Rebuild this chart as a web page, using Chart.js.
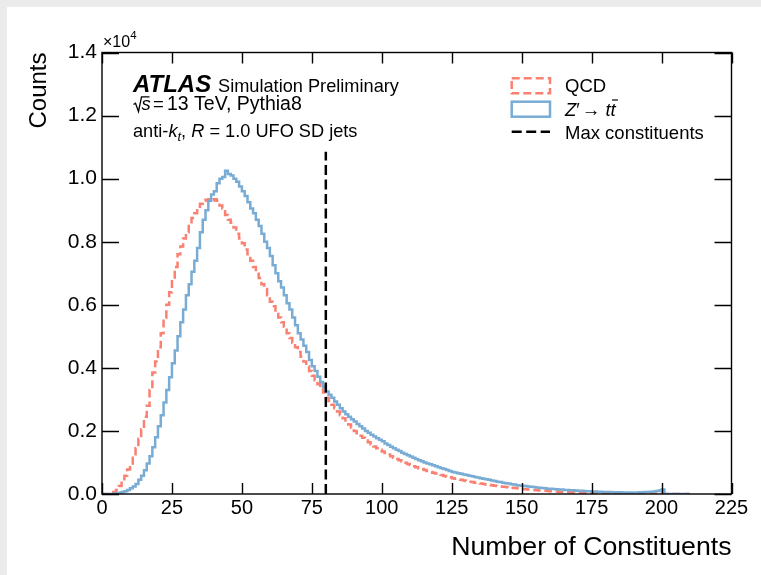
<!DOCTYPE html>
<html><head><meta charset="utf-8">
<script src="https://cdn.jsdelivr.net/npm/chart.js@4.4.1/dist/chart.umd.min.js"></script>
<style>
html,body{margin:0;padding:0;background:#ebebeb;overflow:hidden;}
#card{position:absolute;left:7px;top:7px;width:754px;height:568px;background:#fff;}
#c{position:absolute;left:0;top:0;}
</style></head><body>
<div id="card"></div>
<canvas id="c" width="761" height="575"></canvas>
<script>
// ---------------- data ----------------
const binStart = 0;
const binWidth = 1;
const xTicks = [0, 25, 50, 75, 100, 125, 150, 175, 200, 225];
const yTicks = [0, 2000, 4000, 6000, 8000, 10000, 12000, 14000];
const seriesLabels = ['QCD', 'Z′ → tt̄', 'Max constituents'];
const maxConstituents = 80;
const cutLineTop = 10850;

// QCD counts per bin (bins 0..209)
const qcdCounts = [
  0,0,0,20,60,130,250,400,580,780,
  920,1150,1450,1750,2050,2450,2800,3300,3850,4200,
  4650,5100,5600,6000,6400,6800,7200,7600,7850,8100,
  8300,8550,8750,8900,9050,9200,9300,9330,9350,9300,
  9350,9300,9150,9050,8850,8700,8600,8450,8250,8100,
  7950,7750,7600,7400,7200,7050,6850,6650,6500,6300,
  6100,5950,5750,5600,5450,5300,5100,4950,4800,4650,
  4500,4350,4200,4050,3900,3750,3600,3480,3350,3220,
  3050,2950,2830,2720,2620,2500,2400,2290,2200,2100,
  2000,1930,1850,1780,1700,1640,1570,1510,1450,1400,
  1350,1300,1250,1200,1150,1110,1070,1030,990,950,
  920,880,850,820,790,760,730,700,670,650,
  620,600,570,550,530,500,480,460,450,430,
  410,390,380,360,350,330,320,300,290,280,
  260,250,240,230,220,210,200,190,180,170,
  160,150,140,140,130,120,110,110,100,95,
  90,85,80,75,70,65,60,58,55,50,
  47,44,41,38,35,33,30,28,26,24,
  22,20,19,17,16,15,14,13,12,11,
  10,9,9,8,8,7,7,6,6,6,
  15,0,0,0,0,0,0,0,0,0
];

// Z' -> ttbar counts per bin (bins 0..209)
const zprimeCounts = [
  0,0,0,0,10,20,40,60,90,130,
  180,240,320,450,580,750,970,1200,1480,1800,
  2150,2500,2900,3300,3700,4150,4550,5000,5450,5850,
  6300,6650,7050,7400,7800,8300,8700,9000,9300,9500,
  9600,9850,10000,10050,10250,10150,10100,10000,9900,9750,
  9600,9450,9250,9050,8900,8700,8500,8250,8000,7800,
  7550,7250,7000,6750,6550,6300,6050,5850,5600,5350,
  5100,4900,4700,4500,4250,4050,3900,3720,3550,3400,
  3250,3150,3050,2930,2830,2720,2620,2530,2450,2370,
  2300,2220,2150,2080,2000,1940,1880,1820,1770,1720,
  1670,1600,1550,1500,1450,1400,1360,1310,1270,1230,
  1190,1150,1110,1070,1040,1000,970,940,910,880,
  850,820,790,760,730,700,680,660,640,620,
  600,580,560,540,520,500,480,470,450,430,
  410,390,380,360,340,330,310,300,280,270,
  260,250,240,230,220,210,200,190,180,170,
  165,160,150,145,140,130,125,120,115,110,
  105,100,95,90,85,80,77,73,70,67,
  64,60,58,56,54,52,50,49,48,48,
  48,50,52,55,60,65,72,80,95,110,
  140,0,0,0,0,0,0,0,0,0
];

// ---------------- styling ----------------
const FONT = '"Liberation Sans", Arial, Helvetica, sans-serif';
const qcdColor = '#fa8072';
const zpColor = '#78acd4';

function histPoints(counts) {
  const pts = counts.map((c, i) => ({x: binStart + i * binWidth, y: c}));
  pts.push({x: binStart + counts.length * binWidth, y: 0});
  return pts;
}

function drawRuns(ctx, x, y, runs) {
  for (const r of runs) {
    ctx.font = r.font;
    if (r.at !== undefined) x = r.at;
    const w = ctx.measureText(r.text).width;
    ctx.fillText(r.text, x, y + (r.dy || 0));
    if (r.bar) {
      ctx.save();
      ctx.lineWidth = 1.2;
      ctx.beginPath();
      ctx.moveTo(x + r.bar[0], y + r.bar[2]);
      ctx.lineTo(x + r.bar[1], y + r.bar[2]);
      ctx.stroke();
      ctx.restore();
    }
    x += w + (r.gap || 0);
  }
  return x;
}

const framePlugin = {
  id: 'frame',
  afterDraw(chart) {
    const {ctx, chartArea: a, scales: {x, y}} = chart;
    ctx.save();
    ctx.strokeStyle = '#000';
    ctx.lineWidth = 1.4;
    ctx.setLineDash([]);
    ctx.strokeRect(a.left, a.top, a.right - a.left, a.bottom - a.top);
    ctx.beginPath();
    x.ticks.forEach(t => {
      const px = Math.round(x.getPixelForValue(t.value)) + 0.5;
      ctx.moveTo(px, a.bottom); ctx.lineTo(px, a.bottom - 11);
      ctx.moveTo(px, a.top); ctx.lineTo(px, a.top + 11);
    });
    y.ticks.forEach(t => {
      const py = Math.round(y.getPixelForValue(t.value)) + 0.5;
      ctx.moveTo(a.left, py); ctx.lineTo(a.left + 17, py);
      ctx.moveTo(a.right, py); ctx.lineTo(a.right - 17, py);
    });
    ctx.stroke();

    // offset text x10^4
    ctx.fillStyle = '#000';
    ctx.textBaseline = 'alphabetic';
    ctx.textAlign = 'left';
    drawRuns(ctx, a.left + 1, 47, [
      {text: '×10', font: `16px ${FONT}`},
      {text: '4', font: `11.5px ${FONT}`, dy: -8.5}
    ]);

    // ATLAS label
    const x0 = 133;
    drawRuns(ctx, x0, 91.5, [
      {text: 'ATLAS', font: `italic bold 24px ${FONT}`},
      {text: 'Simulation Preliminary', font: `18.2px ${FONT}`, at: 218}
    ]);
    // sqrt(s) line
    ctx.lineWidth = 1.3;
    ctx.beginPath();
    ctx.moveTo(133.5, 104.5); ctx.lineTo(135.5, 103.2);
    ctx.lineTo(138.5, 111.5); ctx.lineTo(141.5, 96.8); ctx.lineTo(149.5, 96.8);
    ctx.stroke();
    drawRuns(ctx, 141.5, 110, [
      {text: 's', font: `italic 18.5px ${FONT}`},
      {text: '=', font: `18.5px ${FONT}`, at: 153},
      {text: '13 TeV, Pythia8', font: `19.5px ${FONT}`, at: 167}
    ]);
    drawRuns(ctx, x0, 136.5, [
      {text: 'anti-', font: `18.2px ${FONT}`},
      {text: 'k', font: `italic 18.2px ${FONT}`},
      {text: 't', font: `italic 13px ${FONT}`, dy: 4},
      {text: ', ', font: `18.2px ${FONT}`},
      {text: 'R', font: `italic 18.2px ${FONT}`},
      {text: ' = 1.0 UFO SD jets', font: `18.2px ${FONT}`}
    ]);

    // legend
    const ds = chart.data.datasets;
    const lx = 511.7, lw = 38.3, tx = 565;
    ctx.lineWidth = 2.5;
    ctx.strokeStyle = ds[0].borderColor;
    ctx.setLineDash([8, 4]);
    ctx.strokeRect(lx, 78.3, lw, 15);
    ctx.setLineDash([]);
    ctx.strokeStyle = ds[1].borderColor;
    ctx.strokeRect(lx, 101.7, lw, 15);
    ctx.strokeStyle = ds[2].borderColor;
    ctx.setLineDash([10, 4.5]);
    ctx.beginPath(); ctx.moveTo(lx, 131.7); ctx.lineTo(lx + lw, 131.7); ctx.stroke();
    ctx.setLineDash([]);
    ctx.fillStyle = '#000';
    drawRuns(ctx, tx, 92.3, [{text: ds[0].label, font: `18.5px ${FONT}`}]);
    drawRuns(ctx, tx, 115.5, [
      {text: 'Z', font: `italic 18.5px ${FONT}`},
      {text: '′', font: `18.5px ${FONT}`, gap: 2},
      {text: '→ ', font: `18.5px ${FONT}`},
      {text: 't', font: `italic 18.5px ${FONT}`},
      {text: 't', font: `italic 18.5px ${FONT}`, bar: [1.5, 7.5, -15.5]}
    ]);
    drawRuns(ctx, tx, 139, [{text: ds[2].label, font: `18.5px ${FONT}`}]);
    ctx.restore();
  }
};

new Chart(document.getElementById('c'), {
  type: 'line',
  data: {
    datasets: [
      {label: seriesLabels[0], data: histPoints(qcdCounts), borderColor: qcdColor, borderWidth: 2.5,
       borderDash: [8, 4], stepped: 'before', pointRadius: 0, fill: false, order: 2, borderCapStyle: 'butt'},
      {label: seriesLabels[1], data: histPoints(zprimeCounts), borderColor: zpColor, borderWidth: 2.5,
       stepped: 'before', pointRadius: 0, fill: false, order: 1},
      {label: seriesLabels[2], data: [{x: maxConstituents, y: 0}, {x: maxConstituents, y: cutLineTop}],
       borderColor: '#000', borderWidth: 2.5, borderDash: [10, 4.5], pointRadius: 0, fill: false, order: 0}
    ]
  },
  options: {
    responsive: false,
    animation: false,
    devicePixelRatio: 1,
    layout: {padding: {left: 0, right: 29.5, top: 52.5, bottom: 0}},
    plugins: {legend: {display: false}, tooltip: {enabled: false}},
    scales: {
      x: {
        type: 'linear', min: 0, max: 225,
        afterBuildTicks: s => { s.ticks = xTicks.map(v => ({value: v})); },
        ticks: {color: '#000', font: {family: FONT, size: 20}, padding: 2, maxRotation: 0,
                callback: v => String(v)},
        grid: {display: false, drawTicks: false}, border: {display: false},
        title: {display: true, text: 'Number of Constituents', align: 'end', color: '#000',
                font: {family: FONT, size: 26.7}, padding: {top: 0, bottom: 11.7}},
        afterFit: s => { s.height = 81; }
      },
      y: {
        type: 'linear', min: 0, max: 14000,
        afterBuildTicks: s => { s.ticks = yTicks.map(v => ({value: v})); },
        ticks: {color: '#000', font: {family: FONT, size: 21}, padding: 5,
                callback: v => (v / 10000).toFixed(1)},
        grid: {display: false, drawTicks: false}, border: {display: false},
        title: {display: true, text: 'Counts', align: 'end', color: '#000',
                font: {family: FONT, size: 24}, padding: {top: 24.6, bottom: 0}},
        afterFit: s => { s.width = 102; }
      }
    }
  },
  plugins: [framePlugin]
});
</script></body></html>
